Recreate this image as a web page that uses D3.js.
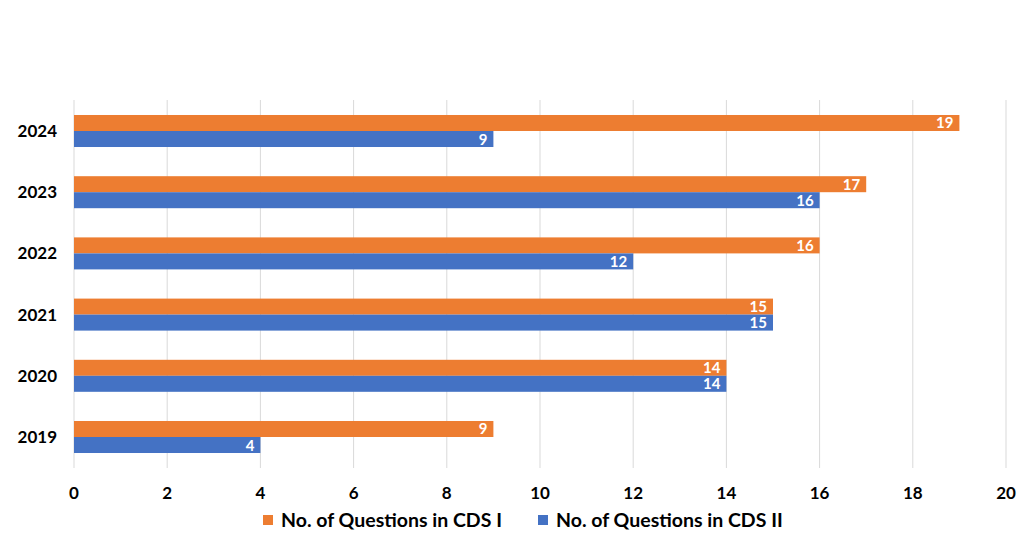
<!DOCTYPE html>
<meta charset="utf-8">
<head>
  <style>
    body { margin: 0; background: #fff; }
    text { font-family: Lato, "Open Sans", sans-serif; font-weight: bold; }
  </style>
</head>
<body>
<svg id="chart" width="1024" height="538"></svg>
<script src="https://d3js.org/d3.v7.min.js"></script>
<script>

var years = ["2024", "2023", "2022", "2021", "2020", "2019"];
var cds1 = [19, 17, 16, 15, 14, 9];
var cds2 = [9, 16, 12, 15, 14, 4];
var seriesNames = ["No. of Questions in CDS I", "No. of Questions in CDS II"];
var xTicks = [0, 2, 4, 6, 8, 10, 12, 14, 16, 18, 20];

var colors = ["#ed7d31", "#4472c4"];

var svg = d3.select("#chart");

var x = d3.scaleLinear().domain([0, 20]).range([74, 1006]);
var y = d3.scaleBand().domain(years).range([100.4, 467.6]).paddingInner(0.477).paddingOuter(0.2385);
var sub = d3.scaleBand().domain([0, 1]).range([0, y.bandwidth()]);

// gridlines
svg.append("g").selectAll("line")
  .data(xTicks)
  .join("line")
    .attr("x1", d => x(d)).attr("x2", d => x(d))
    .attr("y1", 100).attr("y2", 468)
    .attr("stroke", "#d9d9d9")
    .attr("stroke-width", 1);

// x tick labels
svg.append("g").selectAll("text")
  .data(xTicks)
  .join("text")
    .attr("x", d => x(d))
    .attr("y", 499)
    .attr("text-anchor", "middle")
    .attr("font-size", 17)
    .attr("fill", "#000")
    .text(d => d);

// y labels
svg.append("g").selectAll("text")
  .data(years)
  .join("text")
    .attr("x", 57)
    .attr("y", d => y(d) + y.bandwidth() / 2 + 6)
    .attr("text-anchor", "end")
    .attr("font-size", 17)
    .attr("fill", "#000")
    .text(d => d);

var rows = [];
years.forEach(function(yr, i) {
  rows.push({ year: yr, s: 0, v: cds1[i] });
  rows.push({ year: yr, s: 1, v: cds2[i] });
});

var bars = svg.append("g").selectAll("g")
  .data(rows)
  .join("g");

bars.append("rect")
  .attr("x", x(0))
  .attr("y", d => y(d.year) + sub(d.s))
  .attr("width", d => x(d.v) - x(0))
  .attr("height", sub.bandwidth())
  .attr("fill", d => colors[d.s]);

bars.append("text")
  .attr("x", d => x(d.v) - 6)
  .attr("y", d => y(d.year) + sub(d.s) + sub.bandwidth() / 2 + 5.5)
  .attr("text-anchor", "end")
  .attr("font-size", 15)
  .attr("fill", "#fff")
  .text(d => d.v);

// legend
var legendX = [263, 538];
var legend = svg.append("g").selectAll("g")
  .data(seriesNames)
  .join("g")
    .attr("transform", (d, i) => "translate(" + legendX[i] + ",515)");

legend.append("rect")
  .attr("width", 10).attr("height", 10)
  .attr("fill", (d, i) => colors[i]);

legend.append("text")
  .attr("x", 18)
  .attr("y", 11.5)
  .attr("font-size", 19.5)
  .attr("fill", "#000")
  .text(d => d);

</script>
</body>
